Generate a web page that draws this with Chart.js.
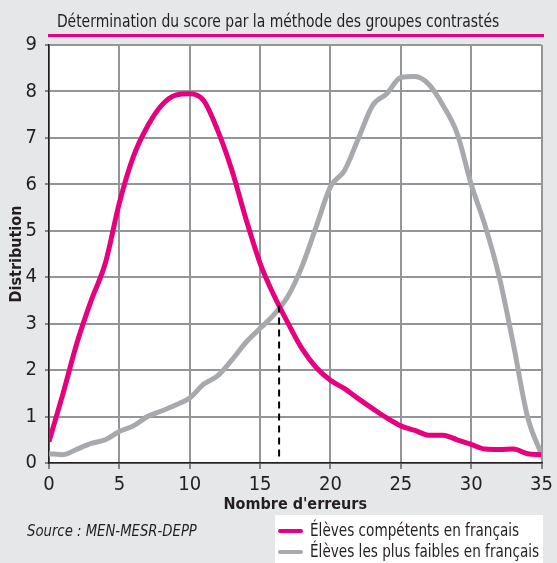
<!DOCTYPE html>
<html>
<head>
<meta charset="utf-8">
<script src="https://cdn.jsdelivr.net/npm/chart.js@4.4.0/dist/chart.umd.min.js"></script>
<style>
  body { margin: 0; }
  #wrap { position: relative; width: 557px; height: 563px; background: #e6e7e8; overflow: hidden;
    font-family: "Liberation Sans Narrow", "DejaVu Sans Condensed", "Roboto", sans-serif; color: #231f20; }
  #wrap canvas { position: absolute; left: 0; top: 0; }
  .title { position: absolute; left: 0; top: 11px; width: 557px; text-align: center; font-size: 17px; line-height: 20px; }
  .title span { display: inline-block; transform: scaleX(0.91); transform-origin: center; white-space: nowrap; }
  .rule { position: absolute; left: 48px; top: 34px; width: 496px; height: 3px; background: #e6007e; }
  .source { position: absolute; left: 27px; top: 521px; font-size: 16px; font-style: italic; line-height: 20px;
    transform: scaleX(0.92); transform-origin: left; white-space: nowrap; }
  .legend { position: absolute; left: 275px; top: 515px; width: 268px; height: 48px; background: #fff; }
  .item { position: absolute; left: 3px; font-size: 17px; line-height: 20px; white-space: nowrap; }
  .item i { display: inline-block; width: 25px; height: 4px; vertical-align: middle; margin-right: 7px; border-radius: 2px; }
  .item span { display: inline-block; transform: scaleX(0.89); transform-origin: left; }
</style>
</head>
<body>
<div id="wrap">
  <canvas id="chart" width="557" height="563"></canvas>
  <div class="title"><span>Détermination du score par la méthode des groupes contrastés</span></div>
  <div class="rule"></div>
  <div class="source">Source : MEN-MESR-DEPP</div>
  <div class="legend">
    <div class="item" style="top:5px"><i style="background:#e6007e"></i><span>Élèves compétents en français</span></div>
    <div class="item" style="top:26px"><i style="background:#a7a9ac"></i><span>Élèves les plus faibles en français</span></div>
  </div>
</div>
<script>
// nombre d'erreurs (0..35)
const errors = [0,1,2,3,4,5,6,7,8,9,10,11,12,13,14,15,16,17,18,19,20,21,22,23,24,25,26,27,28,29,30,31,32,33,34,35];
// élèves compétents
const competents = [0.46,1.5,2.6,3.5,4.3,5.6,6.6,7.25,7.7,7.92,7.95,7.8,7.15,6.3,5.25,4.3,3.6,3.0,2.45,2.05,1.78,1.6,1.38,1.17,0.97,0.8,0.7,0.6,0.6,0.5,0.4,0.3,0.29,0.3,0.2,0.18];
// élèves les plus faibles
const faibles = [0.2,0.18,0.3,0.42,0.5,0.68,0.8,1.0,1.12,1.25,1.4,1.7,1.88,2.22,2.6,2.9,3.2,3.6,4.25,5.1,5.95,6.3,7.0,7.7,7.95,8.3,8.32,8.15,7.7,7.1,6.0,5.1,4.0,2.55,1.0,0.18];
// score de coupure (croisement)
const cutScore = 16.35;
const cutRange = [0.14, 3.4];

const xTicks = [0,5,10,15,20,25,30,35];
const yTicks = [0,1,2,3,4,5,6,7,8,9];

const NARROW = '"Liberation Sans Narrow", "DejaVu Sans Condensed", "Roboto", sans-serif';
const INK = '#231f20';

const whiteArea = {
  id: 'whiteArea',
  beforeDraw(chart) {
    const {ctx, chartArea: a} = chart;
    ctx.save();
    ctx.fillStyle = '#ffffff';
    ctx.fillRect(a.left, a.top, a.right - a.left, a.bottom - a.top);
    ctx.restore();
  }
};

new Chart(document.getElementById('chart'), {
  type: 'line',
  data: {
    datasets: [
      {
        label: 'cut',
        data: cutRange.map(v => ({x: cutScore, y: v})),
        borderColor: '#000',
        borderWidth: 2,
        borderDash: [7, 5],
        pointRadius: 0,
        tension: 0
      },
      {
        label: 'Élèves compétents en français',
        data: errors.map((e, i) => ({x: e, y: competents[i]})),
        borderColor: '#e6007e',
        borderWidth: 5,
        pointRadius: 0,
        cubicInterpolationMode: 'monotone'
      },
      {
        label: 'Élèves les plus faibles en français',
        data: errors.map((e, i) => ({x: e, y: faibles[i]})),
        borderColor: '#a7a9ac',
        borderWidth: 5,
        pointRadius: 0,
        cubicInterpolationMode: 'monotone'
      }
    ]
  },
  options: {
    responsive: false,
    animation: false,
    devicePixelRatio: 1,
    layout: { padding: { top: 45, right: 11.5, left: 0, bottom: 48 } },
    plugins: { legend: { display: false }, tooltip: { enabled: false } },
    scales: {
      x: {
        type: 'linear',
        min: 0, max: 35,
        afterBuildTicks: s => { s.ticks = xTicks.map(v => ({value: v})); },
        afterFit: s => { s.height = 52; },
        ticks: { color: INK, font: { family: NARROW, size: 20 }, padding: 4, maxRotation: 0 },
        grid: { color: '#939598', lineWidth: 2, tickColor: INK, tickLength: 6, tickWidth: 1 },
        border: { color: INK, width: 1.5 },
        title: { display: true, text: "Nombre d'erreurs", color: INK,
          font: { family: NARROW, size: 16, weight: 'bold' }, padding: { top: 0, bottom: 1 } }
      },
      y: {
        min: 0, max: 9,
        afterBuildTicks: s => { s.ticks = yTicks.map(v => ({value: v})); },
        afterFit: s => { s.width = 49; },
        ticks: { color: INK, font: { family: NARROW, size: 20 }, padding: 8 },
        grid: { color: '#939598', lineWidth: 2, tickColor: INK, tickLength: 4, tickWidth: 1 },
        border: { color: INK, width: 1.5 },
        title: { display: true, text: 'Distribution', color: INK,
          font: { family: NARROW, size: 16, weight: 'bold' }, padding: { top: 7, bottom: 0 } }
      }
    }
  },
  plugins: [whiteArea]
});
</script>
</body>
</html>
